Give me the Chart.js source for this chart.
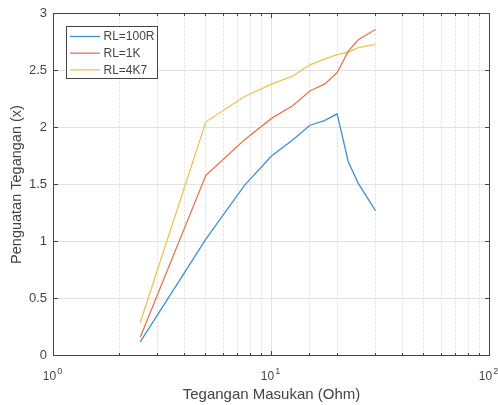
<!DOCTYPE html>
<html lang="id">

<head>
    <meta charset="UTF-8">
    <title>Penguatan Tegangan</title>
    <script src="https://cdn.jsdelivr.net/npm/chart.js"></script>
    <style>
        html, body { margin: 0; padding: 0; background: #fff; }
        canvas { display: block; }
    </style>
</head>

<body>
    <canvas id="gainChart" width="498" height="405"></canvas>

    <script>
        // values
        const inputValues = [2.5, 5, 7.5, 10, 12.5, 15, 17.5, 20, 22.5, 25, 30];
        const gainRL100R = [0.12, 1.02, 1.49, 1.75, 1.89, 2.02, 2.06, 2.12, 1.70, 1.51, 1.27];
        const gainRL1K = [0.16, 1.58, 1.89, 2.08, 2.19, 2.32, 2.38, 2.48, 2.67, 2.77, 2.86];
        const gainRL4K7 = [0.29, 2.05, 2.27, 2.38, 2.45, 2.55, 2.60, 2.64, 2.66, 2.70, 2.73];
        const seriesLabels = ['RL=100R', 'RL=1K', 'RL=4K7'];
        const seriesColors = ['#3a93d3', '#e4774b', '#efc155'];
        const yTickValues = [0, 0.5, 1, 1.5, 2, 2.5, 3];
        const xDecades = [1, 10, 100];

        const FONT = '"Liberation Sans", Arial, sans-serif';
        const AXIS_COLOR = '#444';
        const TEXT_COLOR = '#444';

        function toPoints(ys) {
            return inputValues.map((x, i) => ({ x: x, y: ys[i] }));
        }

        const crisp = v => Math.round(v - 0.5) + 0.5;

        // MATLAB-ish axes: box, inward ticks, dotted minor grid, superscript labels, legend
        const matlabAxes = {
            id: 'matlabAxes',
            beforeDatasetsDraw(chart) {
                const ctx = chart.ctx;
                const area = chart.chartArea;
                const xs = chart.scales.x;
                const ys = chart.scales.y;
                ctx.save();
                ctx.lineWidth = 1;

                // horizontal grid
                ctx.strokeStyle = '#e3e3e3';
                yTickValues.forEach(v => {
                    const py = crisp(ys.getPixelForValue(v));
                    ctx.beginPath();
                    ctx.moveTo(area.left, py);
                    ctx.lineTo(area.right, py);
                    ctx.stroke();
                });

                // vertical grid, minor dotted
                xs.ticks.forEach(t => {
                    const major = Number.isInteger(Math.log10(t.value));
                    const px = crisp(xs.getPixelForValue(t.value));
                    ctx.strokeStyle = major ? '#e3e3e3' : '#dcdcdc';
                    ctx.setLineDash(major ? [] : [2, 2]);
                    ctx.beginPath();
                    ctx.moveTo(px, area.top);
                    ctx.lineTo(px, area.bottom);
                    ctx.stroke();
                });
                ctx.restore();
            },
            afterDatasetsDraw(chart) {
                const ctx = chart.ctx;
                const area = chart.chartArea;
                const xs = chart.scales.x;
                const ys = chart.scales.y;
                ctx.save();
                ctx.lineWidth = 1;
                ctx.strokeStyle = AXIS_COLOR;

                // ticks (inward, top/bottom and left/right)
                xs.ticks.forEach(t => {
                    const major = Number.isInteger(Math.log10(t.value));
                    const len = major ? 4.5 : 2.5;
                    const px = crisp(xs.getPixelForValue(t.value));
                    ctx.beginPath();
                    ctx.moveTo(px, area.bottom);
                    ctx.lineTo(px, area.bottom - len);
                    ctx.moveTo(px, area.top);
                    ctx.lineTo(px, area.top + len);
                    ctx.stroke();
                });
                yTickValues.forEach(v => {
                    const py = crisp(ys.getPixelForValue(v));
                    ctx.beginPath();
                    ctx.moveTo(area.left, py);
                    ctx.lineTo(area.left + 4.5, py);
                    ctx.moveTo(area.right, py);
                    ctx.lineTo(area.right - 4.5, py);
                    ctx.stroke();
                });

                // box
                ctx.strokeRect(area.left, area.top, area.right - area.left, area.bottom - area.top);

                // y tick labels
                ctx.fillStyle = TEXT_COLOR;
                ctx.font = '13px ' + FONT;
                ctx.textAlign = 'right';
                ctx.textBaseline = 'middle';
                yTickValues.forEach(v => {
                    ctx.fillText(String(v), area.left - 6.5, ys.getPixelForValue(v));
                });

                // x tick labels 10^n
                ctx.textBaseline = 'alphabetic';
                ctx.textAlign = 'left';
                xDecades.forEach(v => {
                    const px = xs.getPixelForValue(v);
                    const exp = String(Math.round(Math.log10(v)));
                    ctx.font = '12px ' + FONT;
                    const wBase = ctx.measureText('10').width;
                    ctx.font = '9px ' + FONT;
                    const wExp = ctx.measureText(exp).width;
                    const x0 = px - (wBase + wExp) / 2 - 1.5;
                    ctx.font = '12px ' + FONT;
                    ctx.fillText('10', x0, 380);
                    ctx.font = '9px ' + FONT;
                    ctx.fillText(exp, x0 + wBase + 1, 373.5);
                });

                // axis titles
                ctx.font = '15px ' + FONT;
                ctx.textAlign = 'center';
                ctx.textBaseline = 'alphabetic';
                ctx.fillText('Tegangan Masukan (Ohm)', (area.left + area.right) / 2, 399);
                ctx.save();
                ctx.font = '14.5px ' + FONT;
                ctx.translate(20.5, (area.top + area.bottom) / 2);
                ctx.rotate(-Math.PI / 2);
                ctx.fillText('Penguatan Tegangan (x)', 0, 0);
                ctx.restore();

                // legend box
                const lx = 66.5, ly = 26.5, lw = 91, lh = 52;
                ctx.fillStyle = '#fff';
                ctx.fillRect(lx, ly, lw, lh);
                ctx.strokeStyle = AXIS_COLOR;
                ctx.strokeRect(lx, ly, lw, lh);
                ctx.font = '12px ' + FONT;
                ctx.textAlign = 'left';
                ctx.textBaseline = 'middle';
                chart.data.datasets.forEach((ds, i) => {
                    const rowY = 36.5 + i * 16.7;
                    ctx.strokeStyle = ds.borderColor;
                    ctx.lineWidth = 1.3;
                    ctx.beginPath();
                    ctx.moveTo(70, rowY);
                    ctx.lineTo(100, rowY);
                    ctx.stroke();
                    ctx.fillStyle = TEXT_COLOR;
                    ctx.fillText(ds.label, 103.5, rowY + 0.5);
                });
                ctx.restore();
            }
        };

        const ctx = document.getElementById('gainChart').getContext('2d');

        new Chart(ctx, {
            type: 'line',
            data: {
                datasets: [gainRL100R, gainRL1K, gainRL4K7].map((ys, i) => ({
                    label: seriesLabels[i],
                    data: toPoints(ys),
                    borderColor: seriesColors[i],
                    backgroundColor: seriesColors[i],
                    borderWidth: 1.3,
                    pointRadius: 0,
                    tension: 0,
                    fill: false
                }))
            },
            options: {
                responsive: false,
                animation: false,
                events: [],
                layout: { padding: { top: 13.5, right: 8.5, left: 0, bottom: 0 } },
                scales: {
                    x: {
                        type: 'logarithmic',
                        min: 1,
                        max: 100,
                        grid: { display: false },
                        border: { display: false },
                        ticks: { display: false, autoSkip: false },
                        afterFit: s => { s.height = 49.5; }
                    },
                    y: {
                        type: 'linear',
                        min: 0,
                        max: 3,
                        grid: { display: false },
                        border: { display: false },
                        ticks: { display: false, stepSize: 0.5 },
                        afterFit: s => { s.width = 53.5; }
                    }
                },
                plugins: {
                    legend: { display: false },
                    tooltip: { enabled: false }
                }
            },
            plugins: [matlabAxes]
        });
    </script>
</body>

</html>
